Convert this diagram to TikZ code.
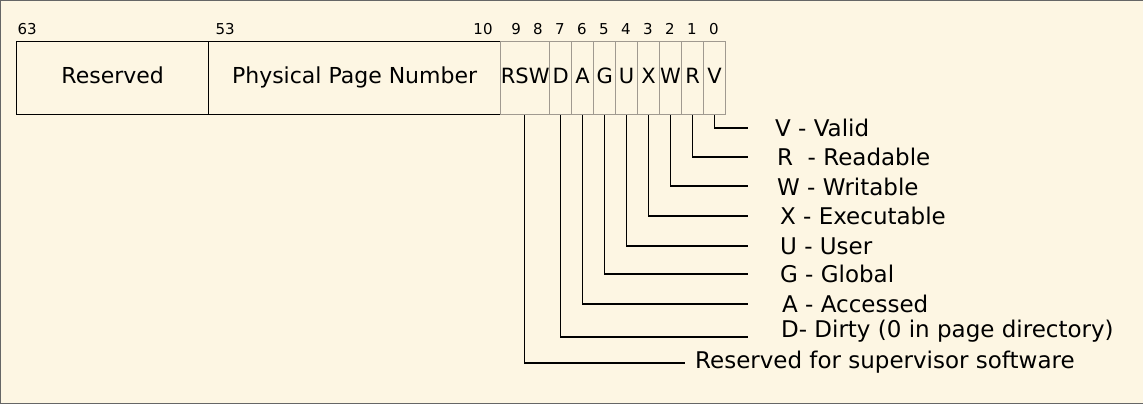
\documentclass[tikz,border=0pt]{standalone}
\usepackage{fontspec}
\setmainfont{DejaVu Sans}
\usetikzlibrary{positioning}
\definecolor{paper}{HTML}{FDF6E3}
\definecolor{bitline}{HTML}{A09A90}
\begin{document}
\begin{tikzpicture}[
x=1pt, y=-1pt,
field/.style={draw, line width=1pt, minimum height=73pt, inner sep=0pt, text height=15pt, text depth=4pt, anchor=north west, font=\fontsize{22}{24}\selectfont},
bit/.style={draw=bitline, line width=1.3pt, minimum height=73pt, minimum width=22pt, inner sep=0pt, text height=15pt, text depth=4pt, anchor=north west, font=\fontsize{21}{23}\selectfont},
num/.style={font=\fontsize{15}{17}\selectfont, anchor=base},
desc/.style={anchor=west, font=\fontsize{23}{25}\selectfont, inner sep=0pt},
wire/.style={line width=1.4pt}
]
\fill[paper, draw=black!60] (0,0) rectangle (1143,403);

\node[field, minimum width=192pt] (resv) at (16,41) {Reserved};
\node[field, minimum width=292pt] (ppn) at (208,41) {Physical Page Number};
\node[bit, minimum width=49pt] (rsw) at (500,41) {RSW};
\foreach \name [count=\i from 0] in {D,A,G,U,X,W,R,V}
  \node[bit] (\name) at (549+22*\i,41) {\name};

% bit numbers
\node[num] (n63) at (27,34) {63};
\node[num] (n53) at (225,34) {53};
\node[num] (n10) at (483,34) {10};
\foreach \b [count=\i from 0] in {9,8,7,6,5,4,3,2,1,0}
  \node[num] (n\b) at (516+22*\i,34) {\b};

% descriptions
\node[desc] (dV) at (775,128) {V - Valid};
\node[desc] (dR) at (777,157) {R\ \ - Readable};
\node[desc] (dW) at (777,187) {W - Writable};
\node[desc] (dX) at (780,216) {X - Executable};
\node[desc] (dU) at (780,246) {U - User};
\node[desc] (dG) at (780,274) {G - Global};
\node[desc] (dA) at (782,304) {A - Accessed};
\node[desc] (dD) at (781,331) {D- Dirty (0 in page directory)};
\node[desc] (drsw) at (695,362) {Reserved for supervisor software};

\foreach \name/\y in {V/128,R/157,W/186,X/216,U/246,G/274,A/304,D/337}
  \coordinate (e\name) at (748,\y);
\foreach \name in {V,R,W,X,U,G,A,D}
  \draw[wire] (\name.south) |- (e\name);
\coordinate (ersw) at (685,363);
\draw[wire] ([xshift=-0.5pt]rsw.south) |- (ersw);
\end{tikzpicture}
\end{document}
